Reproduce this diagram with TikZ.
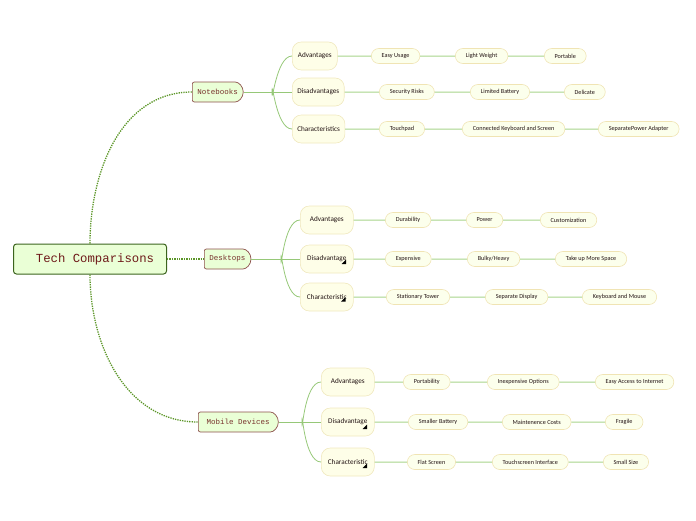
\documentclass[tikz,border=0pt]{standalone}
\usepackage{fontspec}
\setmainfont{Carlito}
\newfontfamily\topicfont{Liberation Mono}
\usetikzlibrary{shapes.misc}
\definecolor{maingreen}{RGB}{92,150,40}
\definecolor{subgreen}{RGB}{150,200,120}
\definecolor{leafgreen}{RGB}{168,212,138}
\definecolor{leafline}{RGB}{240,228,180}
\definecolor{leaffill}{RGB}{252,255,236}
\definecolor{subfill}{RGB}{254,254,232}
\definecolor{subline}{RGB}{240,232,190}
\definecolor{topicfill}{RGB}{234,255,214}
\definecolor{topicline}{RGB}{140,80,75}
\definecolor{topictext}{RGB}{120,50,45}
\definecolor{centralline}{RGB}{60,100,30}
\definecolor{centraltext}{RGB}{110,25,25}
\definecolor{inktext}{RGB}{35,20,20}
\tikzset{
  central/.style={draw=centralline, line width=1pt, fill=topicfill, rounded corners=3pt,
    minimum width=153pt, minimum height=30pt, text=centraltext, font=\topicfont\fontsize{12.3}{14}\selectfont},
  topic/.style={rounded rectangle, rounded rectangle west arc=none, rounded corners=2pt,
    draw=topicline, line width=0.7pt, fill=topicfill, minimum height=20pt, inner xsep=5pt,
    anchor=west, text=topictext, font=\topicfont\fontsize{7.5}{9}\selectfont},
  subtopic/.style={draw=subline, line width=0.6pt, fill=subfill, rounded corners=9pt,
    minimum height=28pt, minimum width=45pt, inner xsep=5pt, anchor=west,
    text=inktext, font=\fontsize{7.2}{8}\selectfont},
  leaf/.style={rounded rectangle, draw=leafline, line width=0.6pt, fill=leaffill,
    minimum height=15pt, inner xsep=10pt, inner ysep=1pt, anchor=west,
    text=inktext, font=\fontsize{6.2}{7}\selectfont},
  mainlink/.style={maingreen, line width=1.3pt, dash pattern=on 1.3pt off 1.1pt},
  sublink/.style={subgreen, line width=0.8pt},
  leaflink/.style={leafgreen, line width=1pt},
}
\newcommand{\moremark}[2]{\fill[black] (#1,#2) -- ++(4.5,0) -- ++(0,-4.5) -- cycle;}

\begin{document}
\begin{tikzpicture}[x=1pt,y=-1pt]
\useasboundingbox (0,0) rectangle (696,520);

\node[central] (tech) at (90,259) {\hspace{10pt}Tech Comparisons};

\node[topic] (nb) at (192,92) {Notebooks\hspace{2pt}};
\node[topic] (dt) at (204,259) {Desktops\hspace{2pt}};
\node[topic, minimum width=90pt] (mb) at (198,422) {Mobile Devices\hspace{4pt}};

\draw[mainlink] (tech.north) to[out=90,in=180] (nb.west);
\draw[mainlink] (tech.east) -- (dt.west);
\draw[mainlink] (tech.south) to[out=-90,in=180] (mb.west);

\node[subtopic] (nbadv) at (292,56) {Advantages};
\node[subtopic] (nbdis) at (292,92) {Disadvantages};
\node[subtopic] (nbcha) at (292,129) {Characteristics};

\node[subtopic, minimum width=53pt] (dtadv) at (300,220) {Advantages};
\node[subtopic, minimum width=53pt] (dtdis) at (300,259) {Disadvantage\hspace{4pt}};
\node[subtopic, minimum width=53pt] (dtcha) at (300,297) {Characteristic\hspace{4pt}};

\node[subtopic, minimum width=53pt] (mbadv) at (321,382) {Advantages};
\node[subtopic, minimum width=53pt] (mbdis) at (321,422) {Disadvantage\hspace{4pt}};
\node[subtopic, minimum width=53pt] (mbcha) at (321,462) {Characteristic\hspace{4pt}};

\moremark{341.5}{264}
\moremark{341}{301.5}
\moremark{362.5}{429}
\moremark{362.5}{468}

\coordinate (nbfork) at (272,92);
\coordinate (dtfork) at (281,259);
\coordinate (mbfork) at (302,422);
\foreach \t in {nb,dt,mb}
{
  \draw[sublink] (\t.east) -- (\t dis.west);
  \draw[sublink] (\t fork) to[out=-90,in=180] (\t adv.west);
  \draw[sublink] (\t fork) to[out=90,in=180] (\t cha.west);
}

\foreach \r/\y/\xa/\ta/\xb/\tb/\xc/\tc in {
  nbadv/56/371/Easy Usage/455/Light Weight/544/Portable,
  nbdis/92/379/Security Risks/470/Limited Battery/564/Delicate,
  nbcha/129/379/Touchpad/462/Connected Keyboard and Screen/598/SeparatePower Adapter,
  dtadv/220/385/Durability/466/Power/540/Customization,
  dtdis/259/385/Expensive/467/{Bulky/Heavy}/555/Take up More Space,
  dtcha/297/386/Stationary Tower/485/Separate Display/582/Keyboard and Mouse,
  mbadv/382/403/Portability/487/Inexpensive Options/595/Easy Access to Internet,
  mbdis/422/408/Smaller Battery/502/Maintenence Costs/605/Fragile,
  mbcha/462/407/Flat Screen/492/Touchscreen Interface/603/Small Size}
{
  \node[leaf] (\r1) at (\xa,\y) {\ta};
  \node[leaf] (\r2) at (\xb,\y) {\tb};
  \node[leaf] (\r3) at (\xc,\y) {\tc};
  \draw[leaflink] (\r) -- (\r1) -- (\r2) -- (\r3);
}
\end{tikzpicture}
\end{document}
